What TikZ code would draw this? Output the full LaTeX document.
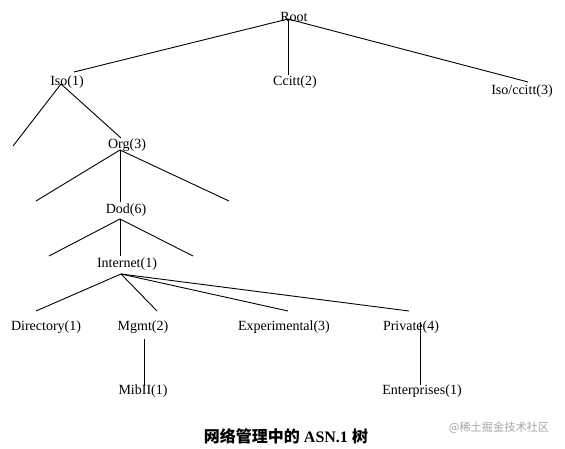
\documentclass[tikz,border=0pt]{standalone}
\usepackage{fontspec}
\setmainfont{Liberation Serif}
\newfontfamily\cjk{Noto Sans CJK SC}
\begin{document}
\begin{tikzpicture}[x=1pt,y=-1pt,
  lbl/.style={inner sep=0pt,font=\fontsize{14}{16}\selectfont},
  edge/.style={line width=0.9pt,black}]
\useasboundingbox[fill=white] (0,0) rectangle (565,449);
% nodes
\node[lbl] (root) at (294,17) {Root};
\node[lbl] (iso) at (67,82) {Iso(1)};
\node[lbl] (ccitt) at (295,82) {Ccitt(2)};
\node[lbl] (isoc) at (522,91) {Iso/ccitt(3)};
\node[lbl] (org) at (127,145) {Org(3)};
\node[lbl] (dod) at (126,210) {Dod(6)};
\node[lbl] (inet) at (127,264) {Internet(1)};
\node[lbl] (dir) at (46,327) {Directory(1)};
\node[lbl] (mgmt) at (143,327) {Mgmt(2)};
\node[lbl] (exp) at (284,327) {Experimental(3)};
\node[lbl] (priv) at (411,327) {Private(4)};
\node[lbl] (mib) at (143,391) {MibII(1)};
\node[lbl] (ent) at (422,391) {Enterprises(1)};
\node[inner sep=0pt,font=\fontsize{16}{18}\selectfont\bfseries] (cap) at (286,436) {{\cjk\bfseries 网络管理中的} ASN.1 {\cjk\bfseries 树}};
\node[inner sep=0pt,text=black!35,font=\cjk\fontsize{11.2}{13}\selectfont] (wm) at (499,428) {@稀土掘金技术社区};
% junction / end coordinates
\coordinate (jroot) at (288,19);
\coordinate (eiso) at (74,72);
\coordinate (eccitt) at (288,75);
\coordinate (eisoc) at (528,82);
\coordinate (jiso) at (61,84);
\coordinate (isoL) at (13,146);
\coordinate (eorg) at (121,138);
\coordinate (jorg) at (120,150);
\coordinate (orgL) at (36,201);
\coordinate (edod) at (120,202);
\coordinate (orgR) at (229,201);
\coordinate (jdod) at (120,219);
\coordinate (dodL) at (49,256);
\coordinate (einet) at (120,256);
\coordinate (dodR) at (193,256);
\coordinate (jinet) at (121,274);
\coordinate (edir) at (36,311);
\coordinate (emgmt) at (157,311);
\coordinate (eexp) at (288,311);
\coordinate (epriv) at (409,311);
\coordinate (smgmt) at (144,339);
\coordinate (emib) at (144,385);
\coordinate (spriv) at (420,322);
\coordinate (eent) at (420,385);
% connectors
\draw[edge] (jroot) -- (eiso);
\draw[edge] (jroot) -- (eccitt);
\draw[edge] (jroot) -- (eisoc);
\draw[edge] (jiso) -- (isoL);
\draw[edge] (jiso) -- (eorg);
\draw[edge] (jorg) -- (orgL);
\draw[edge] (jorg) -- (edod);
\draw[edge] (jorg) -- (orgR);
\draw[edge] (jdod) -- (dodL);
\draw[edge] (jdod) -- (einet);
\draw[edge] (jdod) -- (dodR);
\draw[edge] (jinet) -- (edir);
\draw[edge] (jinet) -- (emgmt);
\draw[edge] (jinet) -- (eexp);
\draw[edge] (jinet) -- (epriv);
\draw[edge] (smgmt) -- (emib);
\draw[edge] (spriv) -- (eent);
\end{tikzpicture}
\end{document}
